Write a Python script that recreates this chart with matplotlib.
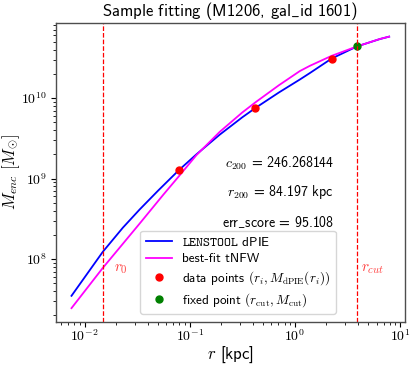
import numpy as np
import matplotlib
matplotlib.use('Agg')
from matplotlib import pyplot as plt
from matplotlib.ticker import FuncFormatter

plt.rcParams['mathtext.fontset'] = 'cm'
plt.rcParams['font.family'] = ['cmss10', 'DejaVu Sans']
plt.rcParams['axes.formatter.use_mathtext'] = True

# curves (log10 r [kpc], log10 M [Msun])
log_r_dpie = [-2.124, -1.826, -1.635, -1.476, -1.3, -1.102, -0.936, -0.714, -0.5, -0.374,
              -0.15, 0.048, 0.143, 0.35, 0.593, 0.81, 0.898]
log_m_dpie = [7.543, 8.09, 8.39, 8.615, 8.85, 9.105, 9.30, 9.545, 9.76, 9.877,
              10.07, 10.23, 10.31, 10.49, 10.642, 10.733, 10.763]

log_r_tnfw = [-2.124, -1.826, -1.635, -1.476, -1.25, -1.095, -0.936, -0.714, -0.5, -0.374,
              -0.15, 0.048, 0.143, 0.35, 0.593, 0.81, 0.898]
log_m_tnfw = [7.39, 7.89, 8.19, 8.44, 8.80, 9.04, 9.29, 9.58, 9.82, 9.947,
              10.16, 10.335, 10.40, 10.524, 10.642, 10.734, 10.763]

# data points and fixed point
r_data = [0.079, 0.423, 2.24]
m_data = [1.27e9, 7.53e9, 3.09e10]
r_cut, m_cut = 3.92, 4.39e10
r0 = 0.0149

c200 = 246.268144
r200 = 84.197
err_score = 95.108

fig = plt.figure(figsize=(4.15, 3.66), dpi=100)
ax = fig.add_axes([0.134, 0.121, 0.842, 0.816])

ax.plot(10 ** np.array(log_r_dpie), 10 ** np.array(log_m_dpie), color='blue', lw=1.3,
        label=r'$\mathtt{LENSTOOL}$ dPIE')
ax.plot(10 ** np.array(log_r_tnfw), 10 ** np.array(log_m_tnfw), color='magenta', lw=1.3,
        label='best-fit tNFW')
ax.plot(r_data, m_data, 'o', color='red', ms=5, label=r'data points $(r_i, M_{\rm dPIE}(r_i))$')
ax.plot([r_cut], [m_cut], 'o', color='green', ms=5, label=r'fixed point $(r_{\rm cut}, M_{\rm cut})$')
ax.set_xscale('log')
ax.set_yscale('log')

ax.axvline(r0, color='red', ls='--', lw=0.9)
ax.axvline(r_cut, color='red', ls='--', lw=0.9)
ax.text(r0 * 1.27, 7.5e7, r'$r_0$', color='#ff4040', fontsize=11, va='center')
ax.text(r_cut * 1.08, 7.5e7, r'$r_{cut}$', color='#ff4040', fontsize=11, va='center')

fmt = FuncFormatter(lambda v, p: r'$10^{%d}$' % round(np.log10(v)))
ax.xaxis.set_major_formatter(fmt)
ax.yaxis.set_major_formatter(fmt)
ax.tick_params(labelsize=10)
ax.tick_params(axis='x', which='major', pad=1.0)
ax.tick_params(axis='y', which='major', pad=2.5)
for s in ax.spines.values():
    s.set_color('0.3')
    s.set_linewidth(1.0)

tx = 0.797
ax.text(tx, 0.531, r'$c_{200}$ = %.6f' % c200, transform=ax.transAxes, ha='right', va='center', fontsize=10)
ax.text(tx, 0.433, r'$r_{200}$ = %.3f kpc' % r200, transform=ax.transAxes, ha='right', va='center', fontsize=10)
ax.text(tx, 0.335, r'err$\_$score = %.3f' % err_score, transform=ax.transAxes, ha='right', va='center', fontsize=10)

ax.set_xlabel(r'$r$ [kpc]', fontsize=12)
ax.set_ylabel(r'$M_{enc}$ $[M_{\odot}]$', fontsize=12)
ax.xaxis.set_label_coords(0.5, -0.077)
ax.yaxis.set_label_coords(-0.096, 0.5)
ax.set_title(r'Sample fitting (M1206, gal$\_$id 1601)', fontsize=12, pad=5)
ax.legend(loc='lower center', bbox_to_anchor=(0.522, 0.026), borderaxespad=0, fontsize=9.5,
          labelspacing=0.3, borderpad=0.4, handletextpad=0.8)

fig.savefig('out.png', dpi=100)
